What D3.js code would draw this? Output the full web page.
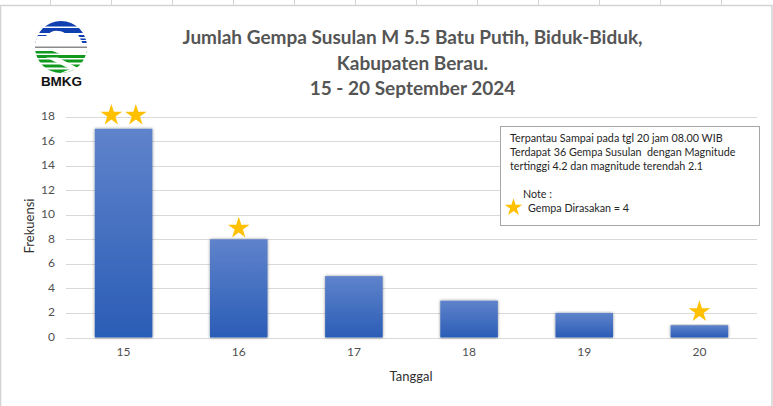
<!DOCTYPE html>
<html><head><meta charset="utf-8">
<script src="https://d3js.org/d3.v7.min.js"></script>
<style>html,body{margin:0;padding:0;background:#fff}svg{display:block}text{font-family:Lato,"Open Sans",sans-serif}</style>
</head><body><div id="c"></div>
<script>
const categories=["15","16","17","18","19","20"];
const values=[17,8,5,3,2,1];
const feltStars=[2,1,0,0,0,1];
const starLevels=[18.1,8.9,0,0,0,2.1];
const yTicks=[0,2,4,6,8,10,12,14,16,18];
const titleLines=["Jumlah Gempa Susulan M 5.5 Batu Putih, Biduk-Biduk,","Kabupaten Berau.","15 - 20 September 2024"];
const noteLines=["Terpantau Sampai pada tgl 20 jam 08.00 WIB","Terdapat 36 Gempa Susulan  dengan Magnitude","tertinggi 4.2 dan magnitude terendah 2.1"];
const W=773,H=406;
const svg=d3.select("#c").append("svg").attr("width",W).attr("height",H);
const defs=svg.append("defs");
const g=defs.append("linearGradient").attr("id","bar").attr("x1",0).attr("y1",0).attr("x2",0).attr("y2",1);
g.append("stop").attr("offset",0).attr("stop-color","#5f83cb");
g.append("stop").attr("offset",1).attr("stop-color","#2b5db6");
const f=defs.append("filter").attr("id","sh").attr("x","-20%").attr("width","140%").attr("y","-5%").attr("height","110%");
f.append("feDropShadow").attr("dx",0).attr("dy",0).attr("stdDeviation",1.5).attr("flood-color","#000").attr("flood-opacity",0.45);
svg.append("g").selectAll("line").data(d3.range(12)).join("line")
 .attr("x1",d=>50.5+61*d).attr("x2",d=>50.5+61*d).attr("y1",0).attr("y2",5).attr("stroke","#d4d4d4");
svg.append("path").attr("d",`M0.5,${H}V5.5H772V${H}`).attr("fill","none").attr("stroke","#d4d4d4").attr("stroke-width",1.5);

const x=d3.scaleBand().domain(categories).range([66,757]).paddingInner(0.5).paddingOuter(0.25);
const y=d3.scaleLinear().domain([0,18]).range([337.5,116.5]);
svg.append("g").selectAll("line").data(yTicks).join("line")
 .attr("x1",66).attr("x2",757).attr("y1",d=>Math.round(y(d))+.5).attr("y2",d=>Math.round(y(d))+.5)
 .attr("stroke","#d9d9d9").attr("stroke-width",1);
svg.append("g").selectAll("rect").data(categories).join("rect")
 .attr("x",d=>x(d)).attr("width",x.bandwidth())
 .attr("y",(d,i)=>y(values[i])).attr("height",(d,i)=>y(0)-y(values[i]))
 .attr("fill","url(#bar)").attr("filter","url(#sh)");
const txt="#505050";
svg.append("g").selectAll("text").data(yTicks).join("text")
 .attr("x",55).attr("y",d=>y(d)+3.5).attr("text-anchor","end").attr("font-size",12).attr("fill",txt).text(d=>d);
svg.append("g").selectAll("text").data(categories).join("text")
 .attr("x",d=>x(d)+x.bandwidth()/2).attr("y",356).attr("text-anchor","middle").attr("font-size",12).attr("fill",txt).text(d=>d);
svg.append("text").attr("x",411).attr("y",381).attr("text-anchor","middle").attr("font-size",13).attr("fill","#303030").text("Tanggal");
svg.append("text").attr("transform","translate(34,226) rotate(-90)").attr("text-anchor","middle").attr("font-size",13).attr("fill","#303030").text("Frekuensi");
svg.append("g").selectAll("text").data(titleLines).join("text")
 .attr("x",412.5).attr("y",(d,i)=>44+i*25.5).attr("text-anchor","middle").attr("font-size",19).attr("font-weight",700).attr("fill","#555").text(d=>d);
const star=d3.symbol().type(d3.symbolStar);
const starData=categories.flatMap((c,i)=>d3.range(feltStars[i]).map(k=>({c,i,k,n:feltStars[i]})));
svg.append("g").selectAll("path").data(starData).join("path")
 .attr("d",star.size(145))
 .attr("fill","#ffc000")
 .attr("transform",d=>`translate(${x(d.c)+x.bandwidth()/2+(d.k-(d.n-1)/2)*24.5},${y(starLevels[d.i])})`);
const bx=svg.append("g");
bx.append("rect").attr("x",500.5).attr("y",126.5).attr("width",259).attr("height",99).attr("fill","#fff").attr("stroke","#a6a6a6");
bx.selectAll("text.n").data(noteLines).join("text").attr("class","n")
 .attr("x",510).attr("y",(d,i)=>142+i*14.2).attr("font-size",10.75).attr("fill","#262626").style("white-space","pre").text(d=>d);
bx.append("text").attr("x",523).attr("y",198).attr("font-size",10.75).attr("fill","#262626").text("Note :");
bx.append("text").attr("x",528).attr("y",212).attr("font-size",10.75).attr("fill","#262626").text("Gempa Dirasakan = 4");
bx.append("path").attr("d",star.size(95)).attr("fill","#ffc000").attr("transform","translate(513.5,207.5)");
// logo
const lg=svg.append("g");
defs.append("clipPath").attr("id","lc").append("circle").attr("cx",61).attr("cy",47).attr("r",26);
const cl=lg.append("g").attr("clip-path","url(#lc)");
const blue="#0f3fb0",green="#0f9a1e";
[[20,6.5,blue],[28,5,blue],[35,2,blue],[38.5,1.5,blue],[41,2,blue],[51,2.5,green],[55,3,green],[59.5,3,green],[64.5,3,green],[69.5,4,green]].forEach(([yy,h,c])=>{
 cl.append("rect").attr("x",30).attr("y",yy).attr("width",62).attr("height",h).attr("fill",c);});
cl.append("path").attr("d","M30,40 L37,36 H46 Q52,30 58,31 Q64,31 66,34.5 H78 L84,46 H30Z").attr("fill","#fff");
cl.append("path").attr("d","M50,50 H92 V54 H60Z").attr("fill","#fff");
cl.append("path").attr("d","M46,57.5 L70,69 L56,75 H62 L78,68 L58,57.5Z").attr("fill","#fff");
lg.append("rect").attr("x",35).attr("y",46.5).attr("width",52).attr("height",1.5).attr("fill","#8a8a8a");
lg.append("text").attr("x",61.5).attr("y",86).attr("text-anchor","middle").attr("font-size",13.5).attr("font-weight",700).style("font-family","Liberation Sans").attr("fill","#111").text("BMKG");
</script></body></html>
